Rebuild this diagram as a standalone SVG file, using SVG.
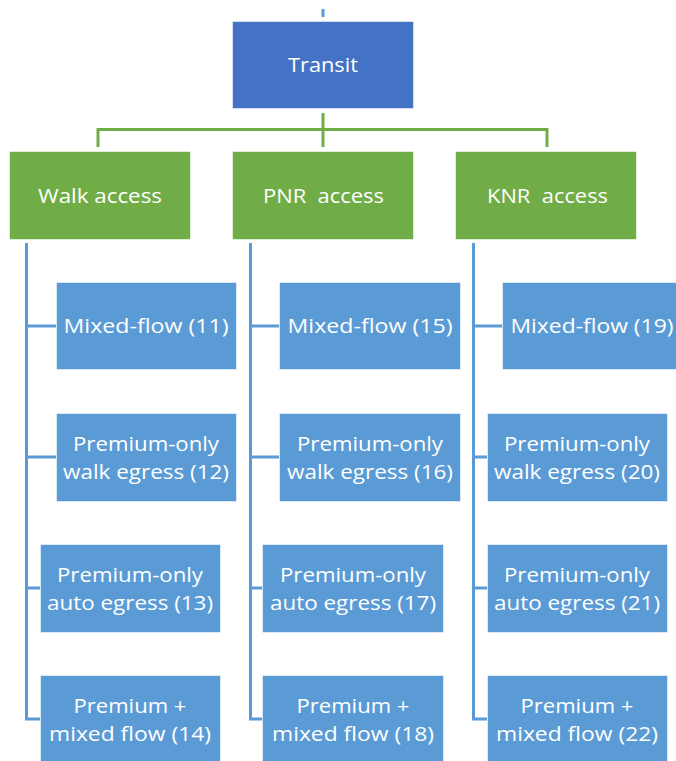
<svg xmlns="http://www.w3.org/2000/svg" width="676" height="761" viewBox="0 0 676 761">
  <style>
    .bg { fill: #ffffff; }
    .top { fill: #4472C4; stroke: #ffffff; stroke-opacity: 0.55; stroke-width: 1; }
    .mode { fill: #70AD47; stroke: #ffffff; stroke-opacity: 0.55; stroke-width: 1; }
    .leaf { fill: #5B9BD5; stroke: #ffffff; stroke-opacity: 0.55; stroke-width: 1; }
    .lbl { font-family: "Open Sans", "Noto Sans", "Liberation Sans", sans-serif; font-size: 20px; fill: #ffffff; text-anchor: middle; white-space: pre; }
    .gline { fill: none; stroke: #70AD47; stroke-width: 3; }
    .bline { fill: none; stroke: #5B9BD5; stroke-width: 3; }
  </style>

  <rect class="bg" x="0" y="0" width="676" height="761"/>

  <!-- connectors -->
  <g id="connectors">
    <path class="bline" d="M323 9 V17"/>
    <path class="gline" d="M323 113 V147 M98 147 V129.5 H547 V147"/>
    <path class="bline" d="M26.5 243 V719 H40 M26.5 326 H56 M26.5 457 H56 M26.5 588 H40"/>
    <path class="bline" d="M250.5 243 V719 H262 M250.5 326 H279 M250.5 457 H279 M250.5 588 H262"/>
    <path class="bline" d="M473.5 243 V719 H487 M473.5 326 H502 M473.5 457 H487 M473.5 588 H487"/>
  </g>

  <!-- root -->
  <g id="transit">
    <rect class="top" x="232.5" y="21.5" width="181" height="87"/>
    <text class="lbl" x="323" y="72" textLength="70" lengthAdjust="spacingAndGlyphs">Transit</text>
  </g>

  <!-- access modes -->
  <g id="walk-access">
    <rect class="mode" x="9.5" y="151.5" width="181" height="88"/>
    <text class="lbl" x="100" y="203" textLength="124" lengthAdjust="spacingAndGlyphs">Walk access</text>
  </g>
  <g id="pnr-access">
    <rect class="mode" x="232.5" y="151.5" width="181" height="88"/>
    <text class="lbl" x="323.5" y="203" textLength="121" lengthAdjust="spacingAndGlyphs" xml:space="preserve">PNR  access</text>
  </g>
  <g id="knr-access">
    <rect class="mode" x="455.5" y="151.5" width="181" height="88"/>
    <text class="lbl" x="547.5" y="203" textLength="121" lengthAdjust="spacingAndGlyphs" xml:space="preserve">KNR  access</text>
  </g>

  <!-- walk access sub-modes -->
  <g id="mixed-flow-11">
    <rect class="leaf" x="56.5" y="282.5" width="180" height="87"/>
    <text class="lbl" x="146" y="333" textLength="165" lengthAdjust="spacingAndGlyphs">Mixed-flow (11)</text>
  </g>
  <g id="premium-walk-12">
    <rect class="leaf" x="56.5" y="413.5" width="180" height="88"/>
    <text class="lbl" x="146" y="450.5" textLength="146" lengthAdjust="spacingAndGlyphs">Premium-only</text>
    <text class="lbl" x="146" y="478.5" textLength="166" lengthAdjust="spacingAndGlyphs">walk egress (12)</text>
  </g>
  <g id="premium-auto-13">
    <rect class="leaf" x="40.5" y="544.5" width="180" height="88"/>
    <text class="lbl" x="130" y="581.5" textLength="146" lengthAdjust="spacingAndGlyphs">Premium-only</text>
    <text class="lbl" x="130" y="609.5" textLength="166" lengthAdjust="spacingAndGlyphs">auto egress (13)</text>
  </g>
  <g id="premium-mixed-14">
    <rect class="leaf" x="40.5" y="675.5" width="180" height="88"/>
    <text class="lbl" x="130" y="712.5" textLength="113" lengthAdjust="spacingAndGlyphs">Premium +</text>
    <text class="lbl" x="130" y="740.5" textLength="162" lengthAdjust="spacingAndGlyphs">mixed flow (14)</text>
  </g>

  <!-- PNR access sub-modes -->
  <g id="mixed-flow-15">
    <rect class="leaf" x="279.5" y="282.5" width="181" height="87"/>
    <text class="lbl" x="370" y="333" textLength="165" lengthAdjust="spacingAndGlyphs">Mixed-flow (15)</text>
  </g>
  <g id="premium-walk-16">
    <rect class="leaf" x="279.5" y="413.5" width="181" height="88"/>
    <text class="lbl" x="370" y="450.5" textLength="146" lengthAdjust="spacingAndGlyphs">Premium-only</text>
    <text class="lbl" x="370" y="478.5" textLength="166" lengthAdjust="spacingAndGlyphs">walk egress (16)</text>
  </g>
  <g id="premium-auto-17">
    <rect class="leaf" x="262.5" y="544.5" width="181" height="88"/>
    <text class="lbl" x="353" y="581.5" textLength="146" lengthAdjust="spacingAndGlyphs">Premium-only</text>
    <text class="lbl" x="353" y="609.5" textLength="166" lengthAdjust="spacingAndGlyphs">auto egress (17)</text>
  </g>
  <g id="premium-mixed-18">
    <rect class="leaf" x="262.5" y="675.5" width="181" height="88"/>
    <text class="lbl" x="353" y="712.5" textLength="113" lengthAdjust="spacingAndGlyphs">Premium +</text>
    <text class="lbl" x="353" y="740.5" textLength="162" lengthAdjust="spacingAndGlyphs">mixed flow (18)</text>
  </g>

  <!-- KNR access sub-modes -->
  <g id="mixed-flow-19">
    <rect class="leaf" x="502.5" y="282.5" width="181" height="87"/>
    <text class="lbl" x="592" y="333" textLength="163" lengthAdjust="spacingAndGlyphs">Mixed-flow (19)</text>
  </g>
  <g id="premium-walk-20">
    <rect class="leaf" x="487.5" y="413.5" width="180" height="88"/>
    <text class="lbl" x="577" y="450.5" textLength="146" lengthAdjust="spacingAndGlyphs">Premium-only</text>
    <text class="lbl" x="577" y="478.5" textLength="166" lengthAdjust="spacingAndGlyphs">walk egress (20)</text>
  </g>
  <g id="premium-auto-21">
    <rect class="leaf" x="487.5" y="544.5" width="180" height="88"/>
    <text class="lbl" x="577" y="581.5" textLength="146" lengthAdjust="spacingAndGlyphs">Premium-only</text>
    <text class="lbl" x="577" y="609.5" textLength="166" lengthAdjust="spacingAndGlyphs">auto egress (21)</text>
  </g>
  <g id="premium-mixed-22">
    <rect class="leaf" x="487.5" y="675.5" width="180" height="88"/>
    <text class="lbl" x="577" y="712.5" textLength="113" lengthAdjust="spacingAndGlyphs">Premium +</text>
    <text class="lbl" x="577" y="740.5" textLength="162" lengthAdjust="spacingAndGlyphs">mixed flow (22)</text>
  </g>
</svg>
